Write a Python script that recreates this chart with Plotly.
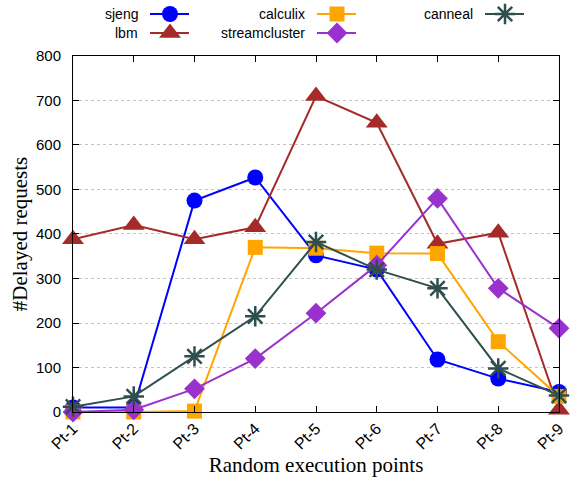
import plotly.graph_objects as go

# Execution points on the x axis
points = ["Pt-1", "Pt-2", "Pt-3", "Pt-4", "Pt-5", "Pt-6", "Pt-7", "Pt-8", "Pt-9"]

# Delayed requests per benchmark
sjeng = [10, 10, 475, 527, 352, 320, 118, 75, 45]
lbm = [388, 420, 388, 415, 710, 650, 378, 403, 5]
calculix = [0, 0, 2, 370, 368, 357, 356, 158, 35]
streamcluster = [0, 5, 52, 120, 222, 330, 480, 278, 188]
canneal = [12, 35, 125, 215, 382, 320, 278, 98, 37]

y_ticks = [0, 100, 200, 300, 400, 500, 600, 700, 800]

series = [
    ("sjeng", sjeng, "#0000ff", "circle", 16),
    ("lbm", lbm, "#a52a2a", "triangle-up", 19),
    ("calculix", calculix, "#ffa500", "square", 15),
    ("streamcluster", streamcluster, "#9932cc", "diamond", 16),
    ("canneal", canneal, "#2f4f4f", "asterisk-open", 17),
]

fig = go.Figure()

for name, vals, color, sym, size in series:
    line_w = 2.5 if sym == "asterisk-open" else 0
    fig.add_trace(go.Scatter(
        x=points, y=vals, name=name, mode="lines+markers",
        line=dict(color=color, width=2),
        marker=dict(symbol=sym, size=size, color=color,
                    line=dict(color=color, width=line_w)),
        cliponaxis=False, showlegend=False,
    ))

# Key drawn on its own overlay axes above the plot (pixel-like units)
key_slots = [
    (140, 14), (140, 33),
    (307, 14), (307, 33),
    (475, 14),
]
for (name, vals, color, sym, size), (tx, ty) in zip(series, key_slots):
    fig.add_trace(go.Scatter(
        x=[tx + 10, tx + 49], y=[ty, ty], mode="lines",
        line=dict(color=color, width=2),
        xaxis="x2", yaxis="y2", showlegend=False, hoverinfo="skip",
    ))
    fig.add_trace(go.Scatter(
        x=[tx + 30], y=[ty], mode="markers",
        marker=dict(symbol=sym, size=size, color=color,
                    line=dict(color=color, width=2.5 if sym == "asterisk-open" else 0)),
        xaxis="x2", yaxis="y2", showlegend=False, hoverinfo="skip",
        cliponaxis=False,
    ))
    fig.add_annotation(
        x=tx, y=ty, xref="x2", yref="y2", text=name, showarrow=False,
        xanchor="right", yanchor="middle",
        font=dict(family="Liberation Sans", size=14, color="black"),
    )

fig.update_layout(
    width=585, height=480,
    margin=dict(l=73, r=26, t=0, b=68, autoexpand=False),
    paper_bgcolor="white", plot_bgcolor="white",
    font=dict(family="Liberation Sans", size=14, color="black"),
    xaxis=dict(
        type="category", range=[0, 8], tickangle=-45,
        showline=True, linecolor="black", linewidth=1, mirror="ticks",
        ticks="inside", ticklen=6, tickcolor="black",
        showgrid=False, zeroline=False, automargin=False,
        tickfont=dict(family="Liberation Sans", size=16),
        title=dict(text="Random execution points",
                   font=dict(family="Liberation Serif", size=21), standoff=0),
    ),
    yaxis=dict(
        domain=[0, 0.8641], range=[0, 800], tickvals=y_ticks,
        showline=True, linecolor="black", linewidth=1, mirror="ticks",
        ticks="inside", ticklen=6, tickcolor="black",
        showgrid=True, gridcolor="#c4c4c4", griddash="dot", gridwidth=1,
        zeroline=False, ticklabelstandoff=8, automargin=False,
        tickfont=dict(family="Liberation Sans", size=15),
        title=dict(text="#Delayed requests",
                   font=dict(family="Liberation Serif", size=21), standoff=2),
    ),
    xaxis2=dict(domain=[0, 1], range=[73, 559], visible=False,
                anchor="y2"),
    yaxis2=dict(domain=[0.881, 1], range=[49, 0], visible=False,
                anchor="x2"),
)

fig.write_html("out.html")
